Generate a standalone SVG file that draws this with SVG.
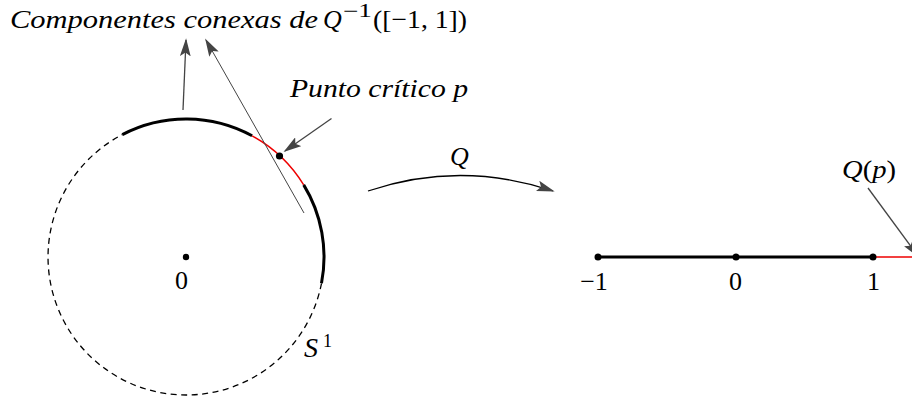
<svg xmlns="http://www.w3.org/2000/svg" width="912" height="399" viewBox="0 0 912 399">
<style>
.thick{fill:none;stroke:#000;stroke-width:3}
.red{fill:none;stroke:#e00;stroke-width:1.5}
.dash{fill:none;stroke:#000;stroke-width:1.3;stroke-dasharray:6 4.5}
.arr{fill:none;stroke:#444;stroke-width:1.3;marker-end:url(#ah)}
.thin{fill:none;stroke:#444;stroke-width:1;marker-end:url(#ah)}
</style>
<defs>
<marker id="ah" viewBox="0 0 20 12" refX="18" refY="6" markerWidth="18" markerHeight="11" markerUnits="userSpaceOnUse" orient="auto">
<path d="M0,0 L20,6 L0,12 L4,6 Z" fill="#444"/>
</marker>
</defs>
<g id="circle">
<path class="dash" d="M321.5,283.3 A138,138 0 1 1 122.3,134.6"/>
<path class="thick" d="M122.3,134.6 A138,138 0 0 1 252.1,135.8"/>
<path class="red" d="M252.1,135.8 A138,138 0 0 1 303.7,184.9"/>
<path class="thick" d="M303.7,184.9 A138,138 0 0 1 321.5,283.3"/>
<circle cx="186" cy="257" r="3.2"/>
<circle cx="279.5" cy="156" r="3.6"/>
<text x="181.5" y="289" font-family="Liberation Serif" font-size="26" text-anchor="middle">0</text>
<text x="304" y="357" font-family="Liberation Serif" font-style="italic" font-size="28">S</text>
<text x="323" y="347" font-family="Liberation Serif" font-size="18">1</text>
</g>
<g id="line">
<line x1="873" y1="257" x2="912" y2="257" stroke="#e00" stroke-width="1.5"/>
<line x1="598" y1="257" x2="873" y2="257" stroke="#000" stroke-width="3"/>
<circle cx="598" cy="257" r="3.5"/>
<circle cx="736" cy="257" r="3.5"/>
<circle cx="873" cy="257" r="3.5"/>
<text x="594" y="290" font-family="Liberation Serif" font-size="26" text-anchor="middle">−1</text>
<text x="735.5" y="290" font-family="Liberation Serif" font-size="26" text-anchor="middle">0</text>
<text x="873.5" y="290" font-family="Liberation Serif" font-size="26" text-anchor="middle">1</text>
</g>
<g id="labels">
<text x="10" y="28" font-family="Liberation Serif" font-size="26" font-style="italic" textLength="308" lengthAdjust="spacingAndGlyphs">Componentes conexas de</text>
<text x="323" y="28" font-family="Liberation Serif" font-size="26" font-style="italic">Q</text>
<text x="343" y="17" font-family="Liberation Serif" font-size="18" textLength="29" lengthAdjust="spacingAndGlyphs">−1</text>
<text x="373" y="28" font-family="Liberation Serif" font-size="26" textLength="94" lengthAdjust="spacingAndGlyphs">([−1, 1])</text>
<text x="290" y="97" font-family="Liberation Serif" font-size="26" font-style="italic" textLength="178" lengthAdjust="spacingAndGlyphs">Punto crítico p</text>
<text x="459.5" y="165" font-family="Liberation Serif" font-size="26" font-style="italic" text-anchor="middle">Q</text>
<text x="842" y="178" font-family="Liberation Serif" font-size="26" font-style="italic" textLength="54" lengthAdjust="spacingAndGlyphs">Q<tspan font-style="normal">(</tspan>p<tspan font-style="normal">)</tspan></text>
</g>
<g id="connectors">
<line class="arr" x1="183" y1="110" x2="186" y2="40"/>
<line class="thin" x1="304" y1="213" x2="206" y2="40"/>
<line class="arr" x1="331.5" y1="118.5" x2="285" y2="151"/>
<path class="arr" stroke="#000" style="stroke:#000" d="M368,191 Q460,160 553,191"/>
<line class="arr" x1="868" y1="188" x2="918" y2="256"/>
</g>
</svg>
